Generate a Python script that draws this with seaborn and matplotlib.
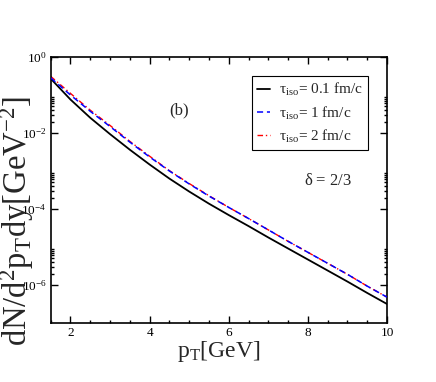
import numpy as np
import pandas as pd
import matplotlib
matplotlib.use("Agg")
import matplotlib.pyplot as plt
import seaborn as sns

# ---- data ----
pt = [1.5, 2.0, 2.5, 3.0, 3.5, 4.0, 4.5, 5.0, 5.5, 6.0, 6.5, 7.0, 7.5, 8.0, 8.5, 9.0, 9.5, 10.0]
tau_01 = [0.269, 0.0759, 0.0251, 9.33e-3, 3.63e-3, 1.48e-3, 6.31e-4, 2.88e-4, 1.38e-4, 6.92e-5,
          3.55e-5, 1.78e-5, 9.12e-6, 4.68e-6, 2.40e-6, 1.23e-6, 6.17e-7, 3.16e-7]
tau_1 = [0.282, 0.100, 0.0372, 0.0148, 5.75e-3, 2.34e-3, 1.00e-3, 4.57e-4, 2.19e-4, 1.10e-4,
         5.62e-5, 2.82e-5, 1.41e-5, 7.24e-6, 3.72e-6, 1.91e-6, 9.33e-7, 4.79e-7]
tau_2 = [0.309, 0.110, 0.0398, 0.0158, 6.03e-3, 2.45e-3, 1.02e-3, 4.68e-4, 2.24e-4, 1.10e-4,
         5.62e-5, 2.82e-5, 1.41e-5, 7.24e-6, 3.72e-6, 1.91e-6, 9.33e-7, 4.79e-7]
series_labels = [r"$\tau_{\rm iso}$= 0.1 fm/c", r"$\tau_{\rm iso}$= 1 fm/c", r"$\tau_{\rm iso}$= 2 fm/c"]
xticks = [2, 4, 6, 8, 10]
yticks = [1e0, 1e-2, 1e-4, 1e-6]
ytick_labels = [r"$10^{0}$", r"$10^{-2}$", r"$10^{-4}$", r"$10^{-6}$"]

sns.set_style("ticks")
plt.rcParams["font.family"] = ["Liberation Serif", "DejaVu Serif"]
plt.rcParams["mathtext.fontset"] = "custom"
plt.rcParams["mathtext.rm"] = "Liberation Serif"
plt.rcParams["mathtext.it"] = "Liberation Serif:italic"
plt.rcParams["mathtext.bf"] = "Liberation Serif:bold"
plt.rcParams["mathtext.default"] = "rm"

fig = plt.figure(figsize=(4.36, 3.82), dpi=100)
ax = fig.add_axes([0.1163, 0.1545, 0.7713, 0.6963])

df = pd.DataFrame({"pt": pt, "a": tau_01, "b": tau_1, "c": tau_2})

sns.lineplot(data=df, x="pt", y="a", ax=ax, color="black", lw=1.3, label=series_labels[0])
sns.lineplot(data=df, x="pt", y="b", ax=ax, color="#0000ff", lw=1.1, label=series_labels[1],
             linestyle=(0, (4, 2.5)))
sns.lineplot(data=df, x="pt", y="c", ax=ax, color="#ff0000", lw=1.0, label=series_labels[2],
             linestyle=(0, (4, 2, 1, 2)))
ax.lines[1].set_zorder(3)

ax.set_yscale("log")
ax.set_xlim(1.5, 10)
ax.set_ylim(1e-7, 1)

ax.set_xticks(xticks)
ax.set_xticklabels([str(t) for t in xticks])
ax.set_xticks(np.arange(1.5, 10.01, 0.5), minor=True)
ax.set_yticks(yticks)
ax.set_yticklabels(ytick_labels)
minor_y = [k * 10.0 ** e for e in (-2, -4, -6) for k in range(2, 10)]
ax.set_yticks(minor_y, minor=True)
ax.set_yticklabels([], minor=True)

ax.tick_params(which="both", direction="in", top=True, right=True, labelsize=9.5,
               width=1.0, colors="black", pad=3)
ax.tick_params(which="major", length=5)
ax.tick_params(which="minor", length=2.5)
for s in ax.spines.values():
    s.set_linewidth(1.2)
    s.set_color("black")

ax.set_xlabel(r"p$_T$[GeV]", fontsize=17, labelpad=0)
ax.set_ylabel("")
fig.text(27 / 436, 1 - 221 / 382, r"dN/d$^2$p$_T$dy[GeV$^{-2}$]", fontsize=23.5,
         rotation=90, rotation_mode="anchor", ha="center", va="baseline")

ax.text(0.3815, 0.80, "(b)", transform=ax.transAxes, fontsize=12, ha="center", va="center")
ax.text(0.8246, 0.534, r"$\delta$ = 2/3", transform=ax.transAxes, fontsize=12,
        ha="center", va="center")

leg = ax.legend(loc="upper left", bbox_to_anchor=(0.5986, 0.9286), borderaxespad=0,
                fancybox=False, frameon=True, edgecolor="black", framealpha=1,
                fontsize=11, handlelength=0.8, handletextpad=0.6, labelspacing=0.4,
                borderpad=0.35)
leg.get_frame().set_linewidth(0.8)

fig.savefig("out.png", dpi=100)
